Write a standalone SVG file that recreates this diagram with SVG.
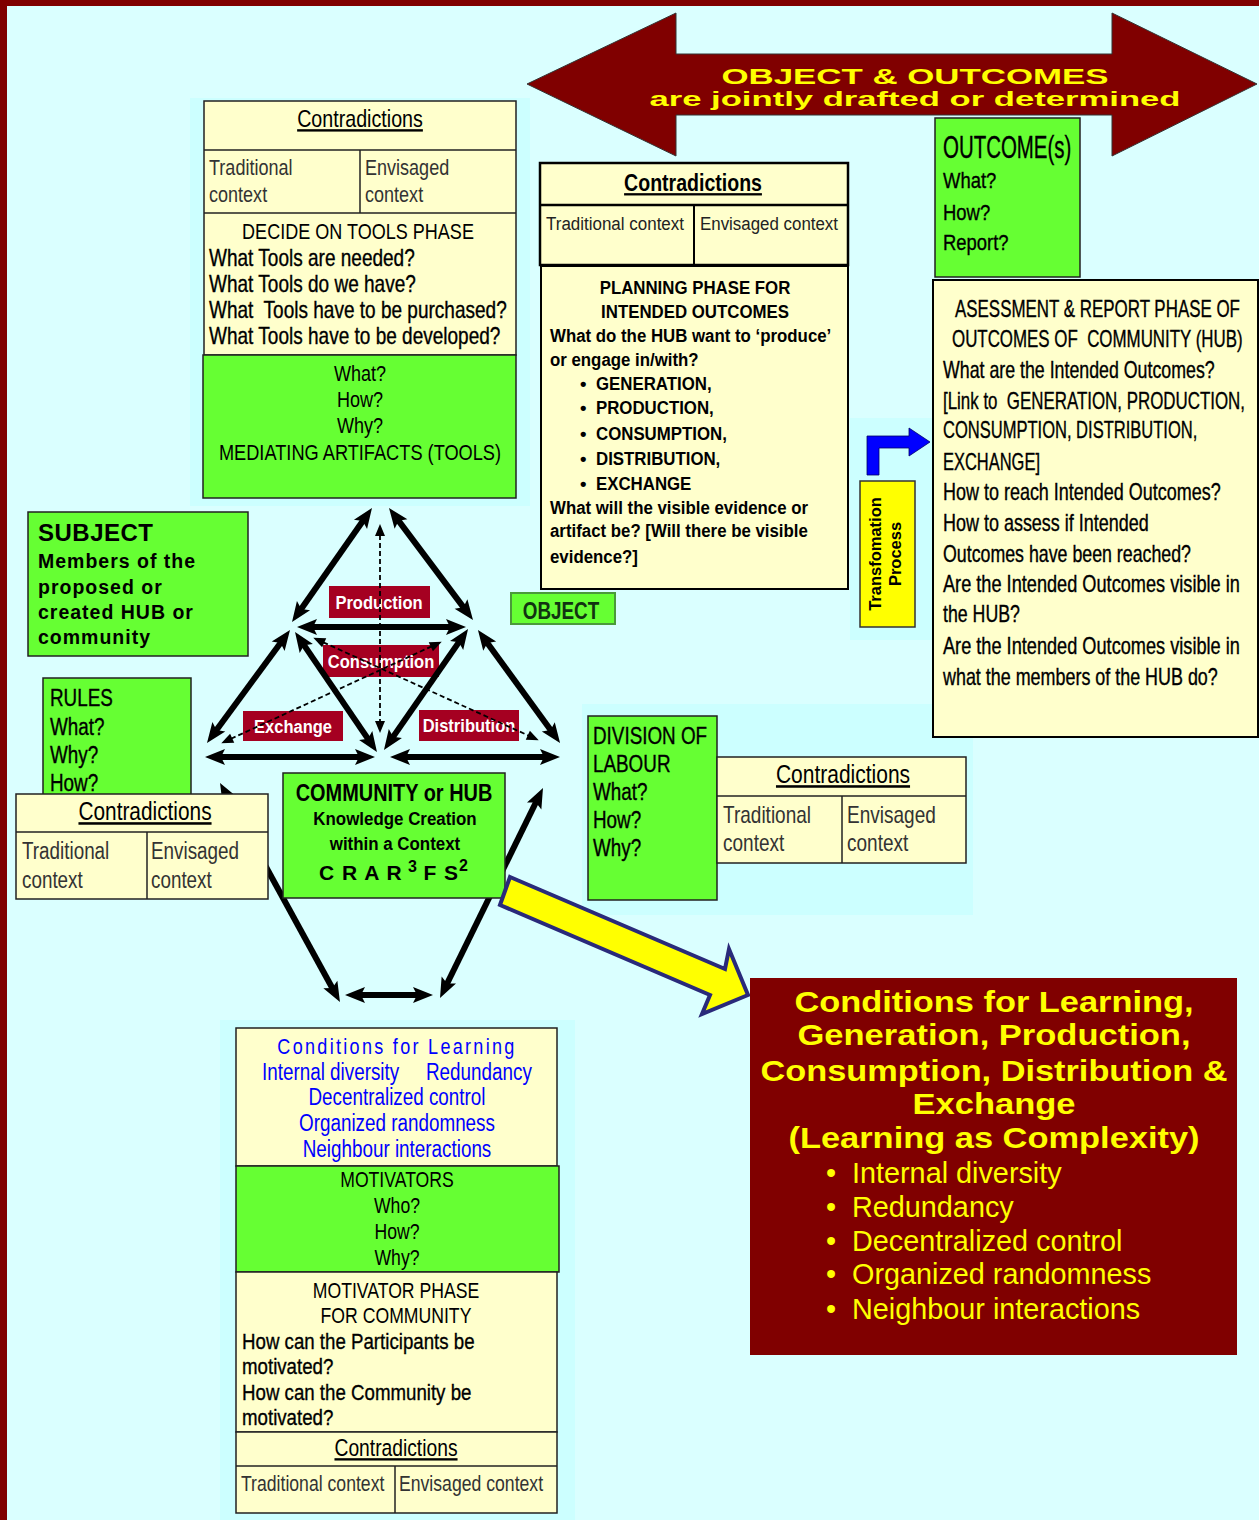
<svg xmlns="http://www.w3.org/2000/svg" width="1259" height="1520" viewBox="0 0 1259 1520">
<defs>
<style>
text{font-family:"Liberation Sans",Arial,sans-serif;}
.b{font-weight:bold;}
.c{text-anchor:middle;}
.hv{stroke:#000;stroke-width:0.35;}
.cream{fill:#FFFFCC;stroke:#222;stroke-width:1.5;}
.green{fill:#66FF33;stroke:#222;stroke-width:1.5;}
.div{stroke:#222;stroke-width:1.5;fill:none;}
.lab{fill:#A50021;}
.labt{fill:#fff;font-size:19px;font-weight:bold;text-anchor:middle;}
.ctx{fill:#333;}
.ul{text-decoration:underline;}
.thick{stroke:#000;stroke-width:6;fill:none;marker-start:url(#ah);marker-end:url(#ah);}
.thin{stroke:#000;stroke-width:1.8;fill:none;stroke-dasharray:5,3;marker-start:url(#ahs);marker-end:url(#ahs);}
.yl{fill:#FFFF00;}
</style>
<marker id="ah" markerUnits="userSpaceOnUse" markerWidth="22" markerHeight="18" refX="8" refY="8" orient="auto-start-reverse" overflow="visible">
<path d="M0,0 L20,8 L0,16 L4,8 z" fill="#000"/>
</marker>
<marker id="ahs" markerUnits="userSpaceOnUse" markerWidth="14" markerHeight="12" refX="9" refY="5" orient="auto-start-reverse" overflow="visible">
<path d="M0,0 L12,5 L0,10 z" fill="#000"/>
</marker>
</defs>

<!-- background and frame -->
<rect x="0" y="0" width="1259" height="1520" fill="#DAFFFF"/>
<rect x="0" y="0" width="1259" height="6" fill="#800000"/>
<rect x="0" y="0" width="7" height="1520" fill="#800000"/>

<!-- subtle panels -->
<g id="panels" fill="#CCFFFF">
<rect x="190" y="98" width="340" height="408"/>
<rect x="850" y="418" width="84" height="222"/>
<rect x="582" y="704" width="391" height="211"/>
<rect x="220" y="1020" width="355" height="500"/>
</g>

<!-- big double arrow -->
<g id="objectOutcomes">
<polygon points="527,84 676,13 676,54 1112,54 1112,13 1257,84 1112,156 1112,115 676,115 676,156" fill="#800000" stroke="#333" stroke-width="1"/>
<text x="915" y="84" class="b c yl" font-size="22" textLength="387" lengthAdjust="spacingAndGlyphs">OBJECT &amp; OUTCOMES</text>
<text x="915" y="106" class="b c yl" font-size="21" textLength="531" lengthAdjust="spacingAndGlyphs">are jointly drafted or determined</text>
</g>

<!-- activity labels -->
<g id="labels">
<rect x="329" y="586" width="101" height="32" class="lab"/>
<text transform="translate(379,609) scale(.87,1)" class="labt">Production</text>
<rect x="323" y="645" width="116" height="32" class="lab"/>
<text transform="translate(381,668) scale(.87,1)" class="labt">Consumption</text>
<rect x="243" y="711" width="100" height="30" class="lab"/>
<text transform="translate(293,733) scale(.87,1)" class="labt">Exchange</text>
<rect x="419" y="710" width="100" height="31" class="lab"/>
<text transform="translate(469,732) scale(.87,1)" class="labt">Distribution</text>
</g>

<!-- connectors -->
<g id="connectors">
<line x1="365.1" y1="517.8" x2="298.9" y2="612.2" class="thick"/>
<line x1="396.2" y1="517.6" x2="465.8" y2="610.4" class="thick"/>
<line x1="309" y1="627" x2="454" y2="627" class="thick"/>
<line x1="282.9" y1="639.7" x2="214.1" y2="733.3" class="thick"/>
<line x1="301.8" y1="641.9" x2="370.2" y2="742.1" class="thick"/>
<line x1="461.2" y1="638.9" x2="390.8" y2="740.1" class="thick"/>
<line x1="485" y1="639.7" x2="553" y2="733.3" class="thick"/>
<line x1="217" y1="757" x2="363" y2="757" class="thick"/>
<line x1="402" y1="757" x2="548" y2="757" class="thick"/>
<line x1="225.8" y1="793.5" x2="334.2" y2="991.5" class="thick"/>
<line x1="537.7" y1="798.8" x2="445.3" y2="987.2" class="thick"/>
<line x1="357" y1="995" x2="421" y2="995" class="thick"/>
<line x1="316" y1="639" x2="536" y2="739" class="thin"/>
<line x1="439" y1="643" x2="224" y2="742" class="thin"/>
<line x1="380" y1="527" x2="380" y2="730" class="thin" stroke-dasharray="6,2,1,2"/>
</g>

<!-- tools box -->
<g id="tools">
<rect x="204" y="101" width="312" height="254" class="cream"/>
<line x1="204" y1="150" x2="516" y2="150" class="div"/>
<line x1="204" y1="213" x2="516" y2="213" class="div"/>
<line x1="360" y1="150" x2="360" y2="213" class="div"/>
<text transform="translate(360,127) scale(.82,1)" class="c ul" font-size="24">Contradictions</text>
<text transform="translate(209,175) scale(.82,1)" class="ctx" font-size="22">Traditional</text>
<text transform="translate(209,202) scale(.82,1)" class="ctx" font-size="22">context</text>
<text transform="translate(365,175) scale(.82,1)" class="ctx" font-size="22">Envisaged</text>
<text transform="translate(365,202) scale(.82,1)" class="ctx" font-size="22">context</text>
<text transform="translate(358,239) scale(.82,1)" class="c" font-size="22">DECIDE ON TOOLS PHASE</text>
<text transform="translate(209,266) scale(.82,1)" class="hv" font-size="23.2">What Tools are needed?</text>
<text transform="translate(209,292) scale(.82,1)" class="hv" font-size="23.2">What Tools do we have?</text>
<text transform="translate(209,318) scale(.82,1)" class="hv" font-size="23.2" xml:space="preserve">What  Tools have to be purchased?</text>
<text transform="translate(209,344) scale(.82,1)" class="hv" font-size="23.2">What Tools have to be developed?</text>
<rect x="203" y="355" width="313" height="143" class="green"/>
<text transform="translate(360,381) scale(.82,1)" class="c" font-size="22">What?</text>
<text transform="translate(360,407) scale(.82,1)" class="c" font-size="22">How?</text>
<text transform="translate(360,433) scale(.82,1)" class="c" font-size="22">Why?</text>
<text transform="translate(360,460) scale(.82,1)" class="c" font-size="22.2">MEDIATING ARTIFACTS (TOOLS)</text>
</g>

<!-- planning box -->
<g id="planning">
<rect x="540" y="163" width="308" height="102" fill="#FFFFCC" stroke="#000" stroke-width="2.5"/>
<line x1="540" y1="205" x2="848" y2="205" stroke="#000" stroke-width="2.5"/>
<line x1="694" y1="205" x2="694" y2="265" stroke="#000" stroke-width="2"/>
<text transform="translate(693,191) scale(.85,1)" class="b c ul" font-size="23">Contradictions</text>
<text x="546" y="230" font-size="18" fill="#222" textLength="138" lengthAdjust="spacingAndGlyphs">Traditional context</text>
<text x="700" y="230" font-size="18" fill="#222" textLength="138" lengthAdjust="spacingAndGlyphs">Envisaged context</text>
<rect x="541" y="266" width="307" height="323" fill="#FFFFCC" stroke="#000" stroke-width="2"/>
<g class="b" font-size="18.5">
<text transform="translate(695,294) scale(.91,1)" class="c">PLANNING PHASE FOR</text>
<text transform="translate(695,318) scale(.91,1)" class="c">INTENDED OUTCOMES</text>
<text transform="translate(550,342) scale(.91,1)">What do the HUB want to ‘produce’</text>
<text transform="translate(550,366) scale(.91,1)">or engage in/with?</text>
<text x="580" y="390">•</text><text transform="translate(596,390) scale(.91,1)">GENERATION,</text>
<text x="580" y="414">•</text><text transform="translate(596,414) scale(.91,1)">PRODUCTION,</text>
<text x="580" y="440">•</text><text transform="translate(596,440) scale(.91,1)">CONSUMPTION,</text>
<text x="580" y="465">•</text><text transform="translate(596,465) scale(.91,1)">DISTRIBUTION,</text>
<text x="580" y="490">•</text><text transform="translate(596,490) scale(.91,1)">EXCHANGE</text>
<text transform="translate(550,514) scale(.91,1)">What will the visible evidence or</text>
<text transform="translate(550,537) scale(.91,1)">artifact be? [Will there be visible</text>
<text transform="translate(550,563) scale(.91,1)">evidence?]</text>
</g>
</g>

<!-- outcome -->
<g id="outcome">
<rect x="935" y="118" width="145" height="159" class="green"/>
<text transform="translate(943,158) scale(.66,1)" class="hv" font-size="31">OUTCOME(s)</text>
<text transform="translate(943,188) scale(.82,1)" class="hv" font-size="22.5">What?</text>
<text transform="translate(943,220) scale(.82,1)" class="hv" font-size="22.5">How?</text>
<text transform="translate(943,250) scale(.82,1)" class="hv" font-size="22.5">Report?</text>
</g>

<!-- assessment -->
<g id="assessment">
<rect x="933" y="280" width="325" height="457" fill="#FFFFCC" stroke="#000" stroke-width="2"/>
<g font-size="23" class="hv">
<text transform="translate(955,317) scale(.736,1)">ASESSMENT &amp; REPORT PHASE OF</text>
<text transform="translate(952,347) scale(.735,1)" xml:space="preserve">OUTCOMES OF  COMMUNITY (HUB)</text>
<text transform="translate(943,378) scale(.773,1)">What are the Intended Outcomes?</text>
<text transform="translate(943,409) scale(.735,1)" xml:space="preserve">[Link to  GENERATION, PRODUCTION,</text>
<text transform="translate(943,438) scale(.719,1)">CONSUMPTION, DISTRIBUTION,</text>
<text transform="translate(943,470) scale(.716,1)">EXCHANGE]</text>
<text transform="translate(943,500) scale(.782,1)">How to reach Intended Outcomes?</text>
<text transform="translate(943,531) scale(.782,1)">How to assess if Intended</text>
<text transform="translate(943,562) scale(.773,1)">Outcomes have been reached?</text>
<text transform="translate(943,592) scale(.79,1)">Are the Intended Outcomes visible in</text>
<text transform="translate(943,622) scale(.772,1)">the HUB?</text>
<text transform="translate(943,654) scale(.79,1)">Are the Intended Outcomes visible in</text>
<text transform="translate(943,685) scale(.779,1)">what the members of the HUB do?</text>
</g>
</g>

<!-- transformation -->
<g id="transformation">
<polygon points="867,475 867,436 909,436 909,428 930,442 909,456 909,448 879,448 879,475" fill="#0000FF" stroke="#000066" stroke-width="0.8"/>
<rect x="860" y="481" width="55" height="146" fill="#FFFF00" stroke="#333" stroke-width="1.5"/>
<text transform="translate(881,554) rotate(-90)" class="b c" font-size="16.5">Transfomation</text>
<text transform="translate(901,554) rotate(-90)" class="b c" font-size="16.5">Process</text>
</g>

<!-- object -->
<g id="object">
<rect x="511" y="593" width="104" height="31" fill="#66FF33" stroke="#4a9a3a" stroke-width="2"/>
<text transform="translate(561,619) scale(.82,1)" class="b c" font-size="23" fill="#113311">OBJECT</text>
</g>

<!-- subject -->
<g id="subject">
<rect x="28" y="512" width="220" height="144" class="green"/>
<text x="38" y="541" class="b" font-size="24" letter-spacing="0.5">SUBJECT</text>
<g class="b" font-size="19.5" letter-spacing="1">
<text x="38" y="568">Members of the</text>
<text x="38" y="594">proposed or</text>
<text x="38" y="619">created HUB or</text>
<text x="38" y="644">community</text>
</g>
</g>

<!-- rules -->
<g id="rules">
<rect x="43" y="678" width="148" height="130" class="green"/>
<text transform="translate(50,706) scale(.82,1)" class="hv" font-size="23">RULES</text>
<text transform="translate(50,735) scale(.82,1)" class="hv" font-size="23">What?</text>
<text transform="translate(50,763) scale(.82,1)" class="hv" font-size="23">Why?</text>
<text transform="translate(50,791) scale(.82,1)" class="hv" font-size="23">How?</text>
</g>

<!-- left contradictions -->
<g id="contraLeft">
<rect x="16" y="794" width="252" height="105" class="cream"/>
<line x1="16" y1="832" x2="268" y2="832" class="div"/>
<line x1="147" y1="832" x2="147" y2="899" class="div"/>
<text transform="translate(145,820) scale(.82,1)" class="c ul" font-size="25.4">Contradictions</text>
<text transform="translate(22,859) scale(.82,1)" class="ctx" font-size="23">Traditional</text>
<text transform="translate(22,888) scale(.82,1)" class="ctx" font-size="23">context</text>
<text transform="translate(151,859) scale(.82,1)" class="ctx" font-size="23">Envisaged</text>
<text transform="translate(151,888) scale(.82,1)" class="ctx" font-size="23">context</text>
</g>

<!-- community -->
<g id="community">
<rect x="283" y="773" width="222" height="125" class="green"/>
<text transform="translate(394,801) scale(.82,1)" class="b c" font-size="24.3">COMMUNITY or HUB</text>
<text transform="translate(395,825) scale(.89,1)" class="b c" font-size="19">Knowledge Creation</text>
<text transform="translate(395,850) scale(.89,1)" class="b c" font-size="19">within a Context</text>
<text x="394" y="880" class="b c" font-size="21" letter-spacing="1" xml:space="preserve">C R A R<tspan dy="-8" font-size="16"> 3 </tspan><tspan dy="8">F S</tspan><tspan dy="-9" font-size="16">2</tspan></text>
</g>

<!-- division of labour -->
<g id="division">
<rect x="588" y="716" width="129" height="184" class="green"/>
<text transform="translate(593,744) scale(.82,1)" class="hv" font-size="23">DIVISION OF</text>
<text transform="translate(593,772) scale(.82,1)" class="hv" font-size="23">LABOUR</text>
<text transform="translate(593,800) scale(.82,1)" class="hv" font-size="23">What?</text>
<text transform="translate(593,828) scale(.82,1)" class="hv" font-size="23">How?</text>
<text transform="translate(593,856) scale(.82,1)" class="hv" font-size="23">Why?</text>
</g>

<!-- right contradictions -->
<g id="contraRight">
<rect x="717" y="757" width="249" height="106" class="cream"/>
<line x1="717" y1="796" x2="966" y2="796" class="div"/>
<line x1="842" y1="796" x2="842" y2="863" class="div"/>
<text transform="translate(843,783) scale(.82,1)" class="c ul" font-size="25.6">Contradictions</text>
<text transform="translate(723,823) scale(.82,1)" class="ctx" font-size="23.2">Traditional</text>
<text transform="translate(723,851) scale(.82,1)" class="ctx" font-size="23.2">context</text>
<text transform="translate(847,823) scale(.82,1)" class="ctx" font-size="23.2">Envisaged</text>
<text transform="translate(847,851) scale(.82,1)" class="ctx" font-size="23.2">context</text>
</g>

<!-- yellow arrow -->
<g id="yellowArrow">
<polygon points="510,877 725,969 729,949 748,995 702,1014 710,995 500,905" fill="#FFFF00" stroke="#2A2A7A" stroke-width="4" stroke-linejoin="miter"/>
</g>

<!-- conditions big red box -->
<g id="conditionsBig">
<rect x="750" y="978" width="487" height="377" fill="#800000"/>
<g class="b c yl" font-size="30">
<text x="994" y="1012" textLength="399" lengthAdjust="spacingAndGlyphs">Conditions for Learning,</text>
<text x="994" y="1045" textLength="393" lengthAdjust="spacingAndGlyphs">Generation, Production,</text>
<text x="994" y="1081" textLength="467" lengthAdjust="spacingAndGlyphs">Consumption, Distribution &amp;</text>
<text x="994" y="1114" textLength="163" lengthAdjust="spacingAndGlyphs">Exchange</text>
<text x="994" y="1148" textLength="411" lengthAdjust="spacingAndGlyphs">(Learning as Complexity)</text>
</g>
<g class="yl" font-size="28.8">
<text x="826" y="1183">•</text><text x="852" y="1183">Internal diversity</text>
<text x="826" y="1217">•</text><text x="852" y="1217">Redundancy</text>
<text x="826" y="1251">•</text><text x="852" y="1251">Decentralized control</text>
<text x="826" y="1284">•</text><text x="852" y="1284">Organized randomness</text>
<text x="826" y="1319">•</text><text x="852" y="1319">Neighbour interactions</text>
</g>
</g>

<!-- bottom stack -->
<g id="motivators">
<rect x="236" y="1028" width="321" height="138" class="cream"/>
<g fill="#0000FF">
<text transform="translate(397,1054) scale(.82,1)" class="c" font-size="22" letter-spacing="2.8">Conditions for Learning</text>
<text transform="translate(262,1080) scale(.82,1)" font-size="23">Internal diversity</text>
<text transform="translate(426,1080) scale(.82,1)" font-size="23">Redundancy</text>
<text transform="translate(397,1105) scale(.82,1)" class="c" font-size="23">Decentralized control</text>
<text transform="translate(397,1131) scale(.82,1)" class="c" font-size="23">Organized randomness</text>
<text transform="translate(397,1157) scale(.82,1)" class="c" font-size="23">Neighbour interactions</text>
</g>
<rect x="236" y="1166" width="323" height="106" class="green"/>
<text transform="translate(397,1187) scale(.82,1)" class="c" font-size="21.5">MOTIVATORS</text>
<text transform="translate(397,1213) scale(.82,1)" class="c" font-size="21.5">Who?</text>
<text transform="translate(397,1239) scale(.82,1)" class="c" font-size="21.5">How?</text>
<text transform="translate(397,1265) scale(.82,1)" class="c" font-size="21.5">Why?</text>
<rect x="236" y="1272" width="321" height="160" class="cream"/>
<text transform="translate(396,1298) scale(.82,1)" class="c" font-size="21.5">MOTIVATOR PHASE</text>
<text transform="translate(396,1323) scale(.82,1)" class="c" font-size="21.5">FOR COMMUNITY</text>
<text transform="translate(242,1349) scale(.82,1)" class="hv" font-size="22.8">How can the Participants be</text>
<text transform="translate(242,1374) scale(.82,1)" class="hv" font-size="22.8">motivated?</text>
<text transform="translate(242,1400) scale(.82,1)" class="hv" font-size="22.8">How can the Community be</text>
<text transform="translate(242,1425) scale(.82,1)" class="hv" font-size="22.8">motivated?</text>
<rect x="236" y="1432" width="321" height="81" class="cream"/>
<line x1="236" y1="1466" x2="557" y2="1466" class="div"/>
<line x1="395" y1="1466" x2="395" y2="1513" class="div"/>
<text transform="translate(396,1456) scale(.82,1)" class="c ul" font-size="23.5">Contradictions</text>
<text transform="translate(241,1491) scale(.82,1)" class="ctx" font-size="21.5">Traditional context</text>
<text transform="translate(399,1491) scale(.82,1)" class="ctx" font-size="21.5">Envisaged context</text>
</g>
</svg>
